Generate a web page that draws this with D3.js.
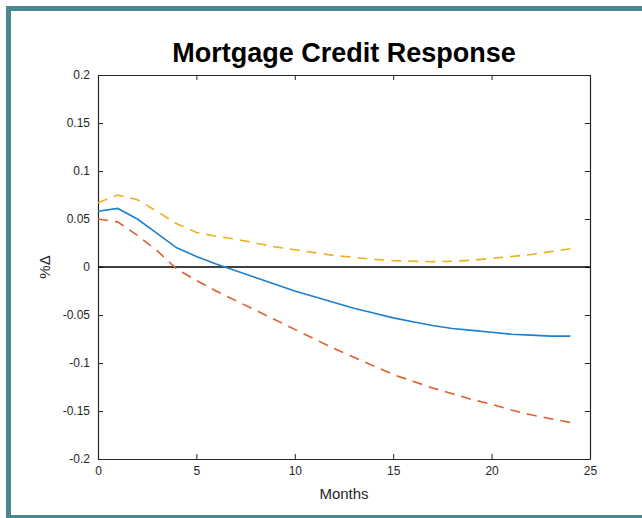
<!DOCTYPE html>
<html>
<head>
<meta charset="utf-8">
<script src="https://cdn.jsdelivr.net/npm/d3@7"></script>
<style>
  html, body { margin: 0; padding: 0; background: #fff; }
  svg { display: block; font-family: "Liberation Sans", Arial, sans-serif; }
</style>
</head>
<body>
<div id="chart"></div>
<script>
// months 0..24
const months = d3.range(0, 25);

const median = [0.058, 0.061, 0.050, 0.035, 0.020, 0.011, 0.003, -0.004, -0.011, -0.018,
  -0.025, -0.031, -0.037, -0.043, -0.048, -0.053, -0.057, -0.061, -0.064, -0.066,
  -0.068, -0.070, -0.071, -0.072, -0.072];

const upper = [0.067, 0.075, 0.070, 0.058, 0.045, 0.036, 0.032, 0.029, 0.025, 0.021,
  0.018, 0.015, 0.012, 0.010, 0.008, 0.0066, 0.006, 0.0055, 0.006, 0.007,
  0.009, 0.011, 0.013, 0.016, 0.019];

const lower = [0.050, 0.047, 0.033, 0.017, -0.002, -0.014, -0.025, -0.035, -0.045, -0.055,
  -0.065, -0.075, -0.085, -0.094, -0.103, -0.112, -0.119, -0.126, -0.132, -0.138,
  -0.143, -0.149, -0.154, -0.158, -0.162];

const xTicks = [0, 5, 10, 15, 20, 25];
const yTicks = [0.2, 0.15, 0.1, 0.05, 0, -0.05, -0.1, -0.15, -0.2];

const width = 642, height = 518;
const margin = { top: 75, right: 52, bottom: 59, left: 98 };
const innerW = width - margin.left - margin.right;
const innerH = height - margin.top - margin.bottom;

const svg = d3.select('#chart')
  .append('svg')
  .attr('width', width)
  .attr('height', height);

// teal frame (top, left, bottom)
const frame = '#4b8790';
svg.append('rect').attr('x', 6).attr('y', 6).attr('width', width - 6).attr('height', 5).attr('fill', frame);
svg.append('rect').attr('x', 6).attr('y', 6).attr('width', 5).attr('height', height - 6).attr('fill', frame);
svg.append('rect').attr('x', 6).attr('y', height - 3).attr('width', width - 6).attr('height', 3).attr('fill', frame);

const x = d3.scaleLinear().domain([0, 25]).range([0, innerW]);
const y = d3.scaleLinear().domain([-0.2, 0.2]).range([innerH, 0]);

const chart = svg.append('g')
  .attr('transform', `translate(${margin.left},${margin.top})`);

const axisColor = '#262626';
// plain hyphen minus, like the original
const fmt = d => String(+d.toFixed(2));

// bottom axis
const xAxis = chart.append('g')
  .attr('transform', `translate(0,${innerH})`)
  .call(d3.axisBottom(x).tickValues(xTicks).tickSizeInner(-5).tickSizeOuter(0).tickPadding(8).tickFormat(fmt));
// top axis (ticks only)
const xAxisTop = chart.append('g')
  .call(d3.axisTop(x).tickValues(xTicks).tickSizeInner(-5).tickSizeOuter(0).tickFormat(''));
// left axis
const yAxis = chart.append('g')
  .call(d3.axisLeft(y).tickValues(yTicks).tickSizeInner(-5).tickSizeOuter(0).tickPadding(8).tickFormat(fmt));
// right axis (ticks only)
const yAxisRight = chart.append('g')
  .attr('transform', `translate(${innerW},0)`)
  .call(d3.axisRight(y).tickValues(yTicks).tickSizeInner(-5).tickSizeOuter(0).tickFormat(''));

[xAxis, xAxisTop, yAxis, yAxisRight].forEach(g => {
  g.select('.domain').attr('stroke', axisColor).attr('stroke-width', 1.2);
  g.selectAll('.tick line').attr('stroke', axisColor).attr('stroke-width', 1);
  g.selectAll('.tick text')
    .attr('fill', '#262626')
    .style('font-size', '12px')
    .style('font-family', '"Liberation Sans", Arial, sans-serif');
});
xAxis.selectAll('.tick text').attr('dy', '0.35em').attr('y', 12);

// zero line
chart.append('line')
  .attr('x1', x(0)).attr('x2', x(25))
  .attr('y1', y(0)).attr('y2', y(0))
  .attr('stroke', '#000')
  .attr('stroke-width', 1.5);

const line = d3.line()
  .x((d, i) => x(months[i]))
  .y(d => y(d));

const series = [
  { values: upper, color: '#EDB120', dash: '10,7' },
  { values: lower, color: '#DE5F2E', dash: '10,7' },
  { values: median, color: '#1E7FCC', dash: null }
];

chart.selectAll('.series')
  .data(series)
  .join('path')
  .attr('class', 'series')
  .attr('d', d => line(d.values))
  .attr('fill', 'none')
  .attr('stroke', d => d.color)
  .attr('stroke-width', 1.6)
  .attr('stroke-dasharray', d => d.dash);

// title
svg.append('text')
  .attr('x', margin.left + innerW / 2)
  .attr('y', 62)
  .attr('text-anchor', 'middle')
  .style('font-size', '27px')
  .style('font-weight', 'bold')
  .attr('fill', '#000')
  .text('Mortgage Credit Response');

// x label
svg.append('text')
  .attr('x', margin.left + innerW / 2)
  .attr('y', 499)
  .attr('text-anchor', 'middle')
  .style('font-size', '15px')
  .attr('fill', '#262626')
  .text('Months');

// y label
svg.append('text')
  .attr('transform', `translate(50,${margin.top + y(0)}) rotate(-90)`)
  .attr('text-anchor', 'middle')
  .style('font-size', '15px')
  .attr('fill', '#262626')
  .text('%Δ');
</script>
</body>
</html>
